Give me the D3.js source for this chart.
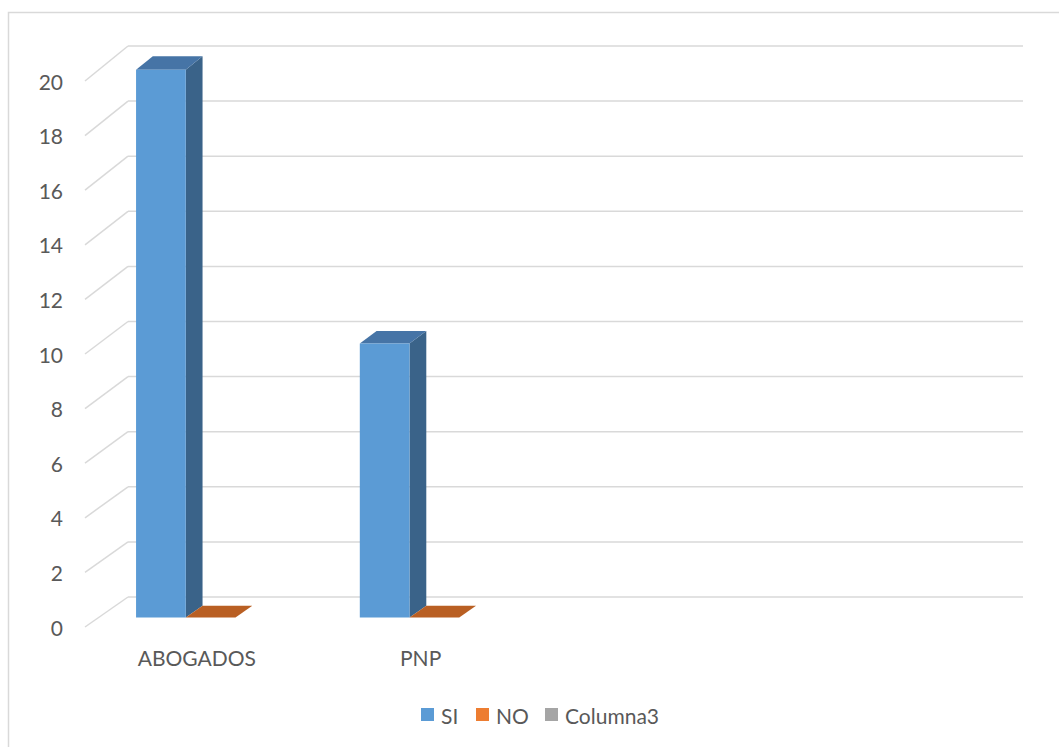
<!DOCTYPE html>
<html><head><meta charset="utf-8">
<script src="https://cdn.jsdelivr.net/npm/d3@7"></script>
<style>html,body{margin:0;padding:0;background:#fff}svg{display:block}text{font-family:Lato,"Open Sans",sans-serif;fill:#595959}</style>
</head><body>
<svg id="chart" width="1059" height="747"></svg>
<script>
const categories = ["ABOGADOS", "PNP", "", ""];
const seriesNames = ["SI", "NO", "Columna3"];
const valuesSI = [20, 10, null, null];
const valuesNO = [0, 0, null, null];
const valuesCol3 = [null, null, null, null];
const yTicks = [0, 2, 4, 6, 8, 10, 12, 14, 16, 18, 20];

const seriesValues = [valuesSI, valuesNO, valuesCol3];
const colors = {
  SI: {front: "#5B9BD5", top: "#4674A6", side: "#3A6389"},
  NO: {front: "#ED7D31", top: "#B95F23", side: "#A0521E"},
  Columna3: {front: "#A5A5A5", top: "#7C7C7C", side: "#6B6B6B"}
};

const svg = d3.select("#chart");
svg.append("rect").attr("x", 8.5).attr("y", 12.5).attr("width", 1200).attr("height", 900)
  .attr("fill", "#fff").attr("stroke", "#D9D9D9").attr("stroke-width", 1.5);

const depthDX = 43;
const yFront = d3.scaleLinear().domain([0, 20]).range([627, 81]);
const yBack = d3.scaleLinear().domain([0, 20]).range([597, 46]);
const x = d3.scaleBand().domain(d3.range(categories.length)).range([85, 980]).paddingInner(0).paddingOuter(0);
const xs = d3.scaleBand().domain(seriesNames).range([0, x.bandwidth()]).paddingInner(0).paddingOuter(0.75);
function P(xf, v, z) {
  return [xf + z * depthDX, yFront(v) * (1 - z) + yBack(v) * z];
}
const zFront = 0.32, zBack = 0.71;
const fs = "21px";

const g = svg.append("g");
yTicks.forEach(t => {
  const b0 = P(x.range()[0], t, 1), b1 = P(x.range()[1], t, 1), f0 = P(x.range()[0], t, 0);
  g.append("line").attr("x1", b0[0]).attr("y1", b0[1]).attr("x2", b1[0]).attr("y2", b1[1])
    .attr("stroke", "#D9D9D9").attr("stroke-width", 1.5);
  g.append("line").attr("x1", f0[0]).attr("y1", f0[1]).attr("x2", b0[0]).attr("y2", b0[1])
    .attr("stroke", "#D9D9D9").attr("stroke-width", 1.5);
  svg.append("text").attr("x", 63).attr("y", f0[1]).attr("text-anchor", "end")
    .attr("dominant-baseline", "central").style("font-size", fs).text(t);
});

const bars = svg.append("g");
const poly = pts => pts.map(p => p.join(",")).join(" ");
categories.forEach((c, ci) => {
  seriesNames.forEach((s, si) => {
    const v = seriesValues[si][ci];
    if (v === null || v === undefined) return;
    const x0 = x(ci) + xs(s), x1 = x0 + xs.bandwidth();
    const col = colors[s];
    const fbl = P(x0, 0, zFront), fbr = P(x1, 0, zFront), ftl = P(x0, v, zFront), ftr = P(x1, v, zFront);
    const bbr = P(x1, 0, zBack), btl = P(x0, v, zBack), btr = P(x1, v, zBack);
    if (v > 0) {
      bars.append("polygon").attr("points", poly([ftr, btr, bbr, fbr])).attr("fill", col.side);
      bars.append("polygon").attr("points", poly([ftl, ftr, btr, btl])).attr("fill", col.top);
      bars.append("polygon").attr("points", poly([ftl, ftr, fbr, fbl])).attr("fill", col.front);
    } else {
      bars.append("polygon").attr("points", poly([ftl, ftr, btr, btl])).attr("fill", col.top);
    }
  });
});

categories.forEach((c, ci) => {
  svg.append("text").attr("x", x(ci) + x.bandwidth() / 2).attr("y", 657)
    .attr("text-anchor", "middle").attr("dominant-baseline", "central")
    .style("font-size", fs).text(c);
});

const legendX = [421, 476, 545];
seriesNames.forEach((s, i) => {
  svg.append("rect").attr("x", legendX[i]).attr("y", 708).attr("width", 13).attr("height", 13)
    .attr("fill", colors[s].front);
  svg.append("text").attr("x", legendX[i] + 20).attr("y", 715).attr("dominant-baseline", "central")
    .style("font-size", fs).text(s);
});
</script>
</body></html>
